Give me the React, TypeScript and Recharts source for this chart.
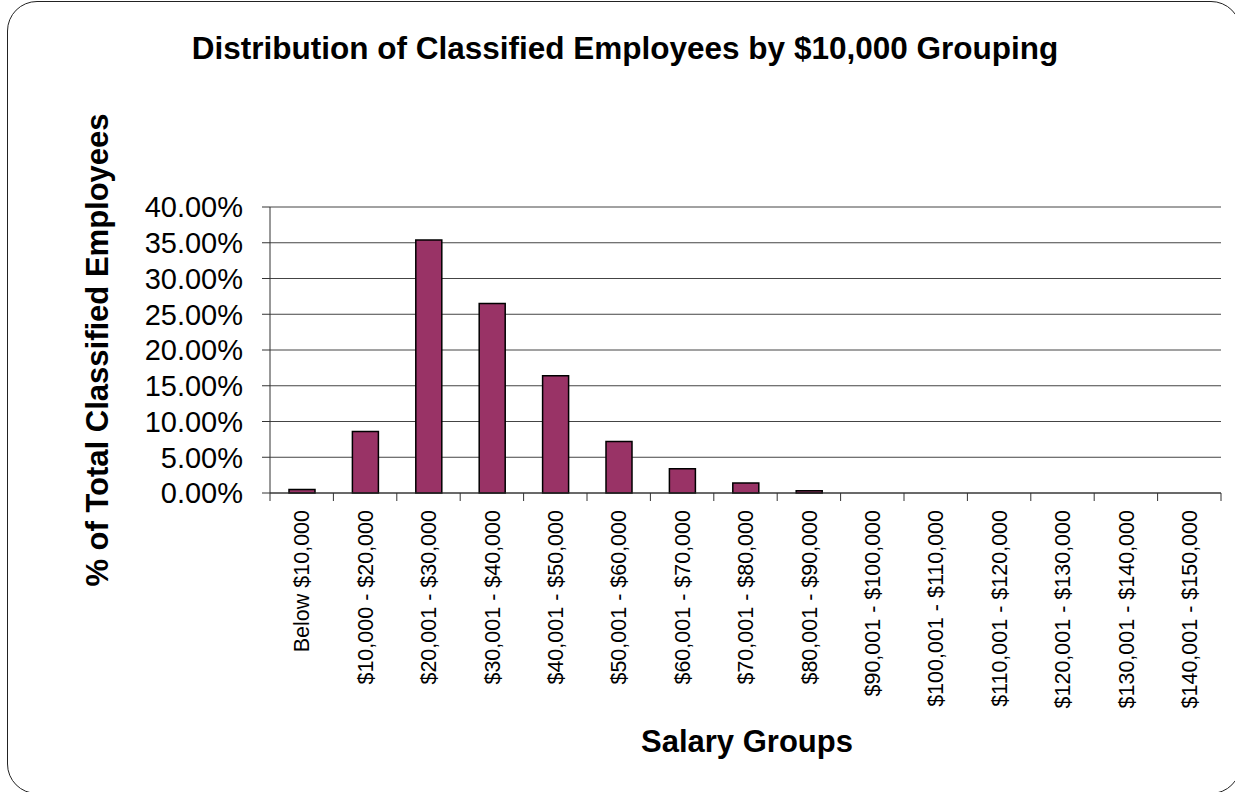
import { BarChart, Bar, CartesianGrid, XAxis, YAxis } from 'recharts';

const salaryGroups = [
  'Below $10,000',
  '$10,000 - $20,000',
  '$20,001 - $30,000',
  '$30,001 - $40,000',
  '$40,001 - $50,000',
  '$50,001 - $60,000',
  '$60,001 - $70,000',
  '$70,001 - $80,000',
  '$80,001 - $90,000',
  '$90,001 - $100,000',
  '$100,001 - $110,000',
  '$110,001 - $120,000',
  '$120,001 - $130,000',
  '$130,001 - $140,000',
  '$140,001 - $150,000',
];

const percentOfEmployees = [0.5, 8.6, 35.4, 26.5, 16.4, 7.2, 3.4, 1.4, 0.3, 0, 0, 0, 0, 0, 0];

const yTicks = [0, 5, 10, 15, 20, 25, 30, 35, 40];

const data = salaryGroups.map((group, i) => ({ group, pct: percentOfEmployees[i] }));

const W = 1235;
const H = 792;
const margin = { top: 207, right: 14, left: 0, bottom: 0 };
const xAxisHeight = 299;
const yAxisWidth = 270;
const halfBand = (W - margin.right - yAxisWidth) / salaryGroups.length / 2;
const font = '"Liberation Sans", Arial, sans-serif';

function SalaryTick(props: any) {
  const { x, y, payload, index } = props;
  const last = index === salaryGroups.length - 1;
  return (
    <g>
      <line x1={x - halfBand} y1={y - 8} x2={x - halfBand} y2={y} stroke="#333" />
      {last && <line x1={x + halfBand} y1={y - 8} x2={x + halfBand} y2={y} stroke="#333" />}
      <text
        x={0}
        y={0}
        transform={`translate(${x},${y + 9}) rotate(-90)`}
        textAnchor="end"
        dy="0.36em"
        fontSize={21.5}
        fontFamily={font}
        fill="#000"
      >
        {payload.value}
      </text>
    </g>
  );
}

export default function App() {
  return (
    <div style={{ position: 'absolute', left: 0, top: 0, width: W, height: H, overflow: 'hidden', background: '#fff' }}>
      <div
        style={{
          position: 'absolute',
          left: 7,
          top: 1,
          width: 1234,
          height: 793,
          border: '1.5px solid #222',
          borderRadius: 30,
          boxSizing: 'border-box',
        }}
      />
      <div style={{ position: 'absolute', left: 0, top: 0 }}>
        <BarChart width={W} height={H} data={data} margin={margin}>
          <CartesianGrid vertical={false} stroke="#444" />
          <XAxis
            dataKey="group"
            interval={0}
            tickLine={false}
            stroke="#333"
            tick={<SalaryTick />}
            height={xAxisHeight}
          />
          <YAxis
            domain={[0, 40]}
            ticks={yTicks}
            interval={0}
            width={yAxisWidth}
            tickFormatter={(v: number) => `${v.toFixed(2)}%`}
            tickSize={8}
            tickMargin={19}
            stroke="#333"
            tick={{ fontSize: 29, fontFamily: font, fill: '#000' }}
          />
          <YAxis yAxisId="frame" orientation="right" width={0} tick={false} tickLine={false} stroke="#888" />
          <Bar dataKey="pct" fill="#993366" stroke="#000" strokeWidth={1.5} barSize={26} isAnimationActive={false} />
          <text x={625} y={59} textAnchor="middle" fontSize={31.5} fontWeight="bold" fontFamily={font} fill="#000">
            Distribution of Classified Employees by $10,000 Grouping
          </text>
          <text x={747} y={752} textAnchor="middle" fontSize={31} fontWeight="bold" fontFamily={font} fill="#000">
            Salary Groups
          </text>
          <text
            x={0}
            y={0}
            transform="translate(108,350) rotate(-90)"
            textAnchor="middle"
            fontSize={31}
            fontWeight="bold"
            fontFamily={font}
            fill="#000"
          >
            % of Total Classified Employees
          </text>
        </BarChart>
      </div>
    </div>
  );
}
